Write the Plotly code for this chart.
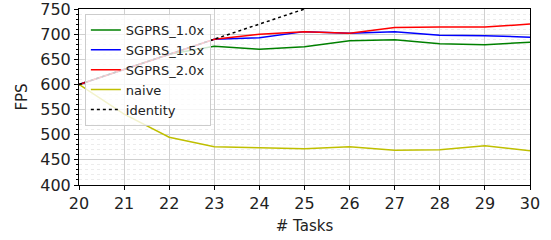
import plotly.graph_objects as go

tasks = [20, 21, 22, 23, 24, 25, 26, 27, 28, 29, 30]
sgprs_10 = [600, 630, 660, 676, 670, 675, 687, 689, 681, 679, 684]
sgprs_15 = [600, 630, 660, 690, 693, 705, 702, 705, 698, 697, 694]
sgprs_20 = [600, 630, 660, 690, 700, 705, 702, 713, 714, 714, 720]
naive = [600, 541, 495, 476, 474, 472, 476, 469, 470, 478, 468]
identity_x = [20, 25]
identity_y = [600, 750]

fig = go.Figure()
series = [
    ("SGPRS_1.0x", tasks, sgprs_10, "green", "solid"),
    ("SGPRS_1.5x", tasks, sgprs_15, "blue", "solid"),
    ("SGPRS_2.0x", tasks, sgprs_20, "red", "solid"),
    ("naive", tasks, naive, "#bfbf00", "solid"),
    ("identity", identity_x, identity_y, "black", "dot"),
]
for name, xs, ys, c, d in series:
    fig.add_trace(go.Scatter(x=xs, y=ys, mode="lines", name=name,
                             line=dict(color=c, width=1.5, dash=d)))

font = "DejaVu Sans"
fig.update_layout(
    width=551, height=240,
    margin=dict(l=79, r=21, t=9, b=55),
    plot_bgcolor="white", paper_bgcolor="white",
    font=dict(family=font, size=16, color="#222"),
    showlegend=True,
    legend=dict(x=0.013, y=0.972, xanchor="left", yanchor="top",
                bgcolor="rgba(255,255,255,0.8)", bordercolor="#cccccc",
                borderwidth=1, font=dict(size=13, color="#222"),
                itemwidth=30, tracegroupgap=0),
    xaxis=dict(range=[20, 30], dtick=1, tick0=20, automargin=False,
               ticklabeloverflow="allow",
               showgrid=True, gridcolor="#d0d0d0", gridwidth=1,
               showline=True, linecolor="black", linewidth=1, mirror=True,
               ticks="outside", ticklen=4, tickcolor="black",
               title=dict(text="# Tasks", font=dict(size=15), standoff=8),
               zeroline=False),
    yaxis=dict(range=[400, 750], dtick=50, tick0=400, automargin=False,
               ticklabeloverflow="allow",
               showgrid=True, gridcolor="#d0d0d0", gridwidth=1,
               showline=True, linecolor="black", linewidth=1, mirror=True,
               ticks="outside", ticklen=4, tickcolor="black",
               minor=dict(dtick=10, ticks="outside", ticklen=2, tickcolor="black",
                          showgrid=True, gridcolor="#ececec", griddash="dot", gridwidth=1),
               title=dict(text="FPS", font=dict(size=15), standoff=9),
               zeroline=False),
)
fig.write_html("out.html", config={"displayModeBar": False},
               post_script="document.body.style.margin='0';")
